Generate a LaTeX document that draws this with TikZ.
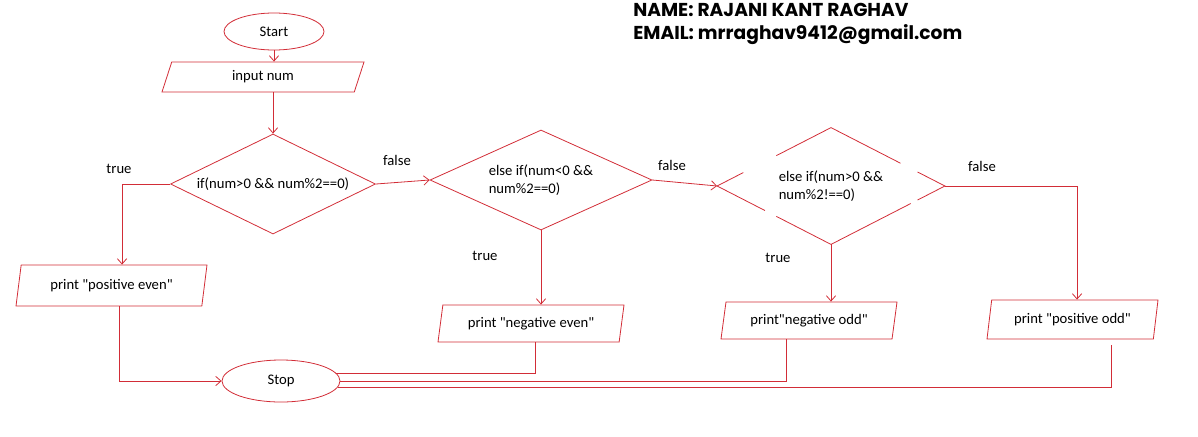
\documentclass[tikz,border=0pt]{standalone}
\usepackage{fontspec}
\setmainfont{Carlito}
\newfontfamily\hdrfont{Poppins}
\usetikzlibrary{shapes.geometric,arrows.meta,calc}

\definecolor{flowred}{RGB}{210,45,55}

\begin{document}
\begin{tikzpicture}
    [x=0.75pt, y=-0.75pt, >={Straight Barb[length=4pt,width=7pt]},
     every node/.style={font=\fontsize{11}{13.5}\selectfont, text=black},
     flow/.style={draw=flowred, line width=0.6pt},
     term/.style={flow, ellipse, inner sep=0pt},
     io/.style={flow, trapezium, trapezium stretches body, inner sep=0pt},
     cond/.style={flow, diamond, aspect=2, inner sep=0pt, align=left},
     lbl/.style={inner sep=0pt}]

    \useasboundingbox (0,0) rectangle (1198,436);

    \node[lbl, anchor=north west, align=left,
          font=\hdrfont\bfseries\fontsize{14}{17.25}\selectfont] (hdr) at (633,3)
         {NAME: RAJANI KANT RAGHAV\\EMAIL: mrraghav9412@gmail.com};

    \node[term, minimum width=75pt, minimum height=27.75pt] (start) at (274,31.5) {Start};
    \node[io, trapezium left angle=52, trapezium right angle=128,
          minimum width=151.5pt, minimum height=22.5pt] (inp) at (263,77) {input num};

    \node[cond, minimum width=153.75pt, minimum height=75pt] (d1) at (273,184)
         {if(num>0 \&\& num\%2==0)};
    \node[cond, minimum width=166.5pt, minimum height=75pt] (d2) at (541,180)
         {else if(num<0 \&\&\\num\%2==0)};
    \node[cond, draw=none, minimum width=170.25pt, minimum height=87pt] (d3) at (831,186)
         {else if(num>0 \&\&\\num\%2!==0)};

    \node[io, trapezium left angle=67.5, trapezium right angle=112.5,
          minimum width=143.25pt, minimum height=30.75pt] (pe) at (111.5,285.5)
         {print \textquotedbl positive even\textquotedbl};
    \node[io, trapezium left angle=69, trapezium right angle=111,
          minimum width=139.5pt, minimum height=27.75pt] (ne) at (531,323.5)
         {print \textquotedbl negative even\textquotedbl};
    \node[io, trapezium left angle=68.6, trapezium right angle=111.4,
          minimum width=132pt, minimum height=27.75pt] (no) at (809,320.5)
         {print\textquotedbl negative odd\textquotedbl};
    \node[io, trapezium left angle=69.6, trapezium right angle=110.4,
          minimum width=128.25pt, minimum height=29.25pt] (po) at (1072.5,319.5)
         {print \textquotedbl positive odd\textquotedbl};

    \node[term, minimum width=88.5pt, minimum height=31.5pt] (stop) at (281,381) {Stop};

    \node[lbl] (t1) at (119,169) {true};
    \node[lbl] (f1) at (397,160) {false};
    \node[lbl] (f2) at (672,165) {false};
    \node[lbl] (t2) at (485,256) {true};
    \node[lbl] (t3) at (778,258) {true};
    \node[lbl] (f3) at (982,166) {false};

    % broken outline of the third decision
    \draw[flow] (d3.west) -- ($(d3.west)!0.23!(d3.north)$)
                ($(d3.west)!0.52!(d3.north)$) -- (d3.north) -- ($(d3.north)!0.61!(d3.east)$)
                ($(d3.north)!0.76!(d3.east)$) -- (d3.east) -- ($(d3.east)!0.24!(d3.south)$)
                ($(d3.east)!0.30!(d3.south)$) -- (d3.south) -- ($(d3.south)!0.48!(d3.west)$)
                ($(d3.south)!0.58!(d3.west)$) -- (d3.west);

    \draw[flow,->] (start.south) -- (start.south |- inp.north);
    \draw[flow,->] (d1.north |- inp.south) -- (d1.north);
    \draw[flow,->] (d1.west) -| ([xshift=7.9pt]pe.north);
    \draw[flow,->] (d1.east) -- (d2.west);
    \draw[flow,->] (d2.east) -- (d3.west);
    \draw[flow,->] (d2.south) -- (d2.south |- ne.north);
    \draw[flow,->] (d3.south) -- (d3.south |- no.north);
    \draw[flow,->] (d3.east) -| ([xshift=3.4pt]po.north);

    \draw[flow,->] ([xshift=5.6pt]pe.south) |- (stop.west);
    \draw[flow] ([xshift=3pt]ne.south) |- (stop.8);
    \draw[flow] ([xshift=-17.25pt]no.south) |- (stop.0);
    \draw[flow] ([xshift=28.9pt,yshift=-4.5pt]po.south) |- (stop.-6);
\end{tikzpicture}
\end{document}
